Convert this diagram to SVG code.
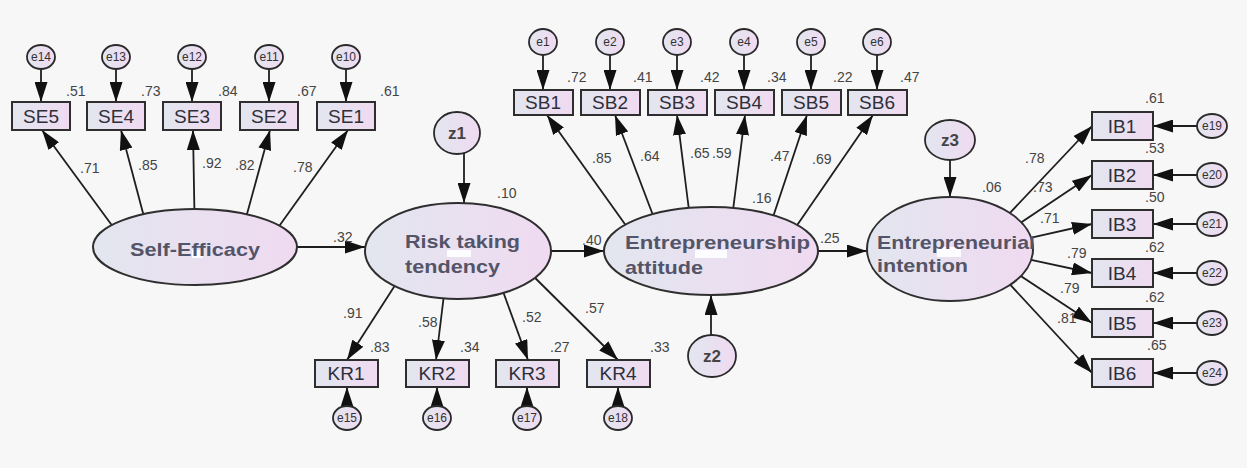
<svg xmlns="http://www.w3.org/2000/svg" width="1247" height="468" viewBox="0 0 1247 468">
<defs>
<linearGradient id="fg" x1="0" y1="0" x2="1" y2="0">
<stop offset="0" stop-color="#e2e6ef"/>
<stop offset="1" stop-color="#f0daf1"/>
</linearGradient>
<marker id="ah" viewBox="0 0 20 13" refX="20" refY="6.5" markerWidth="20" markerHeight="13" orient="auto" markerUnits="userSpaceOnUse">
<path d="M0,0 L20,6.5 L0,13 z" fill="#111"/>
</marker>
<style>
.lv{fill:url(#fg);stroke:#2e2e2e;stroke-width:2}
.bx{fill:url(#fg);stroke:#2e2e2e;stroke-width:2}
.er{fill:url(#fg);stroke:#2a2a2a;stroke-width:1.8}
.c{stroke:#1e1e1e;stroke-width:1.8;fill:none;marker-end:url(#ah)}
.lt{font-family:"Liberation Sans",Arial,sans-serif;font-weight:bold;font-size:19px;fill:#545468}
.bt{font-family:"Liberation Sans",Arial,sans-serif;font-size:19px;fill:#2f2f3a;text-anchor:middle}
.et{font-family:"Liberation Sans",Arial,sans-serif;font-size:12px;fill:#333;text-anchor:middle}
.zt{font-family:"Liberation Sans",Arial,sans-serif;font-weight:bold;font-size:17px;fill:#444;text-anchor:middle}
.n{font-family:"Liberation Sans",Arial,sans-serif;font-size:14px;fill:#444}
.ws{fill:#fff;opacity:0.9}
</style>
</defs>
<rect x="0" y="0" width="1247" height="468" fill="#f7f7f7"/>

<g id="connectors">
<line class="c" x1="41" y1="57" x2="41" y2="102"/>
<line class="c" x1="116" y1="57" x2="116" y2="102"/>
<line class="c" x1="192" y1="57" x2="192" y2="102"/>
<line class="c" x1="269" y1="57" x2="269" y2="102"/>
<line class="c" x1="346" y1="57" x2="346" y2="102"/>
<line class="c" x1="130" y1="250" x2="42" y2="130"/>
<line class="c" x1="152" y1="247" x2="121" y2="130"/>
<line class="c" x1="195" y1="245" x2="193" y2="130"/>
<line class="c" x1="238" y1="247" x2="270" y2="130"/>
<line class="c" x1="262" y1="250" x2="348" y2="130"/>
<line class="c" x1="290" y1="247" x2="365" y2="247"/>
<line class="c" x1="464" y1="140" x2="464" y2="203"/>
<line class="c" x1="540" y1="251" x2="604" y2="251"/>
<line class="c" x1="711" y1="360" x2="711" y2="295"/>
<line class="c" x1="810" y1="251" x2="867" y2="251"/>
<line class="c" x1="950" y1="145" x2="950" y2="197"/>
<line class="c" x1="410" y1="262" x2="347" y2="360"/>
<line class="c" x1="447" y1="270" x2="436" y2="360"/>
<line class="c" x1="497" y1="275" x2="528" y2="360"/>
<line class="c" x1="520" y1="263" x2="618" y2="360"/>
<line class="c" x1="347" y1="418" x2="347" y2="387"/>
<line class="c" x1="437" y1="418" x2="437" y2="387"/>
<line class="c" x1="527" y1="418" x2="527" y2="387"/>
<line class="c" x1="618" y1="418" x2="618" y2="387"/>
<line class="c" x1="543" y1="42" x2="543" y2="90"/>
<line class="c" x1="610" y1="42" x2="610" y2="90"/>
<line class="c" x1="677" y1="42" x2="677" y2="90"/>
<line class="c" x1="744" y1="42" x2="744" y2="90"/>
<line class="c" x1="811" y1="42" x2="811" y2="90"/>
<line class="c" x1="877" y1="42" x2="877" y2="90"/>
<line class="c" x1="642" y1="248" x2="547" y2="115"/>
<line class="c" x1="665" y1="247" x2="615" y2="115"/>
<line class="c" x1="694" y1="250" x2="677" y2="115"/>
<line class="c" x1="728" y1="250" x2="745" y2="115"/>
<line class="c" x1="762" y1="250" x2="807" y2="115"/>
<line class="c" x1="780" y1="250" x2="873" y2="115"/>
<line class="c" x1="990" y1="234" x2="1092" y2="126"/>
<line class="c" x1="995" y1="240" x2="1092" y2="175"/>
<line class="c" x1="990" y1="247" x2="1092" y2="224"/>
<line class="c" x1="990" y1="251" x2="1092" y2="273"/>
<line class="c" x1="995" y1="259" x2="1092" y2="323"/>
<line class="c" x1="990" y1="263" x2="1092" y2="373"/>
<line class="c" x1="1212" y1="126" x2="1153" y2="126"/>
<line class="c" x1="1212" y1="175" x2="1153" y2="175"/>
<line class="c" x1="1212" y1="224" x2="1153" y2="224"/>
<line class="c" x1="1212" y1="273" x2="1153" y2="273"/>
<line class="c" x1="1212" y1="323" x2="1153" y2="323"/>
<line class="c" x1="1212" y1="373" x2="1153" y2="373"/>
</g>

<g id="self-efficacy">
<ellipse class="lv" cx="195" cy="247" rx="102" ry="38"/>
<rect class="ws" x="192" y="250" width="11" height="8"/>
<text class="lt" x="130" y="256" textLength="130" lengthAdjust="spacingAndGlyphs">Self-Efficacy</text>
</g>
<g id="risk-taking">
<ellipse class="lv" cx="458" cy="251" rx="93" ry="48"/>
<rect class="ws" x="447" y="250" width="24" height="7"/>
<text class="lt" x="405" y="248" textLength="115" lengthAdjust="spacingAndGlyphs">Risk taking</text>
<text class="lt" x="405" y="273" textLength="95" lengthAdjust="spacingAndGlyphs">tendency</text>
</g>
<g id="attitude">
<ellipse class="lv" cx="711" cy="251" rx="107" ry="44"/>
<rect class="ws" x="695" y="250" width="32" height="8"/>
<text class="lt" x="625" y="249" textLength="185" lengthAdjust="spacingAndGlyphs">Entrepreneurship</text>
<text class="lt" x="625" y="274" textLength="78" lengthAdjust="spacingAndGlyphs">attitude</text>
</g>
<g id="intention">
<ellipse class="lv" cx="950" cy="249" rx="83" ry="52"/>
<rect class="ws" x="937" y="247" width="24" height="10"/>
<text class="lt" x="877" y="249" textLength="158" lengthAdjust="spacingAndGlyphs">Entrepreneurial</text>
<text class="lt" x="877" y="272" textLength="91" lengthAdjust="spacingAndGlyphs">intention</text>
</g>

<g id="z1"><ellipse class="er" cx="457" cy="133" rx="23" ry="21"/><text class="zt" x="457" y="139">z1</text></g>
<g id="z2"><ellipse class="er" cx="712" cy="356" rx="24" ry="21"/><text class="zt" x="712" y="362">z2</text></g>
<g id="z3"><ellipse class="er" cx="950" cy="140" rx="25" ry="20"/><text class="zt" x="950" y="146">z3</text></g>

<g id="SE5"><rect class="bx" x="12" y="102" width="58" height="28"/><text class="bt" x="41" y="123">SE5</text></g>
<g id="SE4"><rect class="bx" x="87" y="102" width="58" height="28"/><text class="bt" x="116" y="123">SE4</text></g>
<g id="SE3"><rect class="bx" x="163" y="102" width="58" height="28"/><text class="bt" x="192" y="123">SE3</text></g>
<g id="SE2"><rect class="bx" x="240" y="102" width="58" height="28"/><text class="bt" x="269" y="123">SE2</text></g>
<g id="SE1"><rect class="bx" x="317" y="102" width="58" height="28"/><text class="bt" x="346" y="123">SE1</text></g>
<g id="e14"><ellipse class="er" cx="41" cy="57" rx="14" ry="12"/><text class="et" x="41" y="61">e14</text></g>
<g id="e13"><ellipse class="er" cx="116" cy="57" rx="14" ry="12"/><text class="et" x="116" y="61">e13</text></g>
<g id="e12"><ellipse class="er" cx="192" cy="57" rx="14" ry="12"/><text class="et" x="192" y="61">e12</text></g>
<g id="e11"><ellipse class="er" cx="269" cy="57" rx="14" ry="12"/><text class="et" x="269" y="61">e11</text></g>
<g id="e10"><ellipse class="er" cx="346" cy="57" rx="14" ry="12"/><text class="et" x="346" y="61">e10</text></g>

<g id="KR1"><rect class="bx" x="315" y="360" width="63" height="27"/><text class="bt" x="346" y="380">KR1</text></g>
<g id="KR2"><rect class="bx" x="406" y="360" width="63" height="27"/><text class="bt" x="437" y="380">KR2</text></g>
<g id="KR3"><rect class="bx" x="496" y="360" width="63" height="27"/><text class="bt" x="527" y="380">KR3</text></g>
<g id="KR4"><rect class="bx" x="587" y="360" width="63" height="27"/><text class="bt" x="618" y="380">KR4</text></g>
<g id="e15"><ellipse class="er" cx="347" cy="418" rx="14" ry="12"/><text class="et" x="347" y="422">e15</text></g>
<g id="e16"><ellipse class="er" cx="437" cy="418" rx="14" ry="12"/><text class="et" x="437" y="422">e16</text></g>
<g id="e17"><ellipse class="er" cx="527" cy="418" rx="14" ry="12"/><text class="et" x="527" y="422">e17</text></g>
<g id="e18"><ellipse class="er" cx="618" cy="418" rx="14" ry="12"/><text class="et" x="618" y="422">e18</text></g>

<g id="SB1"><rect class="bx" x="514" y="90" width="59" height="25"/><text class="bt" x="543" y="109">SB1</text></g>
<g id="SB2"><rect class="bx" x="581" y="90" width="59" height="25"/><text class="bt" x="610" y="109">SB2</text></g>
<g id="SB3"><rect class="bx" x="648" y="90" width="59" height="25"/><text class="bt" x="677" y="109">SB3</text></g>
<g id="SB4"><rect class="bx" x="715" y="90" width="59" height="25"/><text class="bt" x="744" y="109">SB4</text></g>
<g id="SB5"><rect class="bx" x="782" y="90" width="59" height="25"/><text class="bt" x="811" y="109">SB5</text></g>
<g id="SB6"><rect class="bx" x="848" y="90" width="59" height="25"/><text class="bt" x="877" y="109">SB6</text></g>
<g id="e1"><ellipse class="er" cx="543" cy="42" rx="14" ry="13"/><text class="et" x="543" y="46">e1</text></g>
<g id="e2"><ellipse class="er" cx="610" cy="42" rx="14" ry="13"/><text class="et" x="610" y="46">e2</text></g>
<g id="e3"><ellipse class="er" cx="677" cy="42" rx="14" ry="13"/><text class="et" x="677" y="46">e3</text></g>
<g id="e4"><ellipse class="er" cx="744" cy="42" rx="14" ry="13"/><text class="et" x="744" y="46">e4</text></g>
<g id="e5"><ellipse class="er" cx="811" cy="42" rx="14" ry="13"/><text class="et" x="811" y="46">e5</text></g>
<g id="e6"><ellipse class="er" cx="877" cy="42" rx="14" ry="13"/><text class="et" x="877" y="46">e6</text></g>

<g id="IB1"><rect class="bx" x="1092" y="112" width="61" height="28"/><text class="bt" x="1122" y="133">IB1</text></g>
<g id="IB2"><rect class="bx" x="1092" y="161" width="61" height="28"/><text class="bt" x="1122" y="182">IB2</text></g>
<g id="IB3"><rect class="bx" x="1092" y="210" width="61" height="28"/><text class="bt" x="1122" y="231">IB3</text></g>
<g id="IB4"><rect class="bx" x="1092" y="259" width="61" height="28"/><text class="bt" x="1122" y="280">IB4</text></g>
<g id="IB5"><rect class="bx" x="1092" y="309" width="61" height="28"/><text class="bt" x="1122" y="330">IB5</text></g>
<g id="IB6"><rect class="bx" x="1092" y="359" width="61" height="28"/><text class="bt" x="1122" y="380">IB6</text></g>
<g id="e19"><ellipse class="er" cx="1212" cy="126" rx="15" ry="12"/><text class="et" x="1212" y="130">e19</text></g>
<g id="e20"><ellipse class="er" cx="1212" cy="175" rx="15" ry="12"/><text class="et" x="1212" y="179">e20</text></g>
<g id="e21"><ellipse class="er" cx="1212" cy="224" rx="15" ry="12"/><text class="et" x="1212" y="228">e21</text></g>
<g id="e22"><ellipse class="er" cx="1212" cy="273" rx="15" ry="12"/><text class="et" x="1212" y="277">e22</text></g>
<g id="e23"><ellipse class="er" cx="1212" cy="323" rx="15" ry="12"/><text class="et" x="1212" y="327">e23</text></g>
<g id="e24"><ellipse class="er" cx="1212" cy="373" rx="15" ry="12"/><text class="et" x="1212" y="377">e24</text></g>

<g id="labels">
<text class="n" x="66" y="96">.51</text>
<text class="n" x="141" y="96">.73</text>
<text class="n" x="218" y="96">.84</text>
<text class="n" x="297" y="96">.67</text>
<text class="n" x="380" y="96">.61</text>
<text class="n" x="80" y="173">.71</text>
<text class="n" x="138" y="170">.85</text>
<text class="n" x="202" y="168">.92</text>
<text class="n" x="235" y="170">.82</text>
<text class="n" x="293" y="172">.78</text>
<text class="n" x="333" y="242">.32</text>
<text class="n" x="497" y="198">.10</text>
<text class="n" x="582" y="245">.40</text>
<text class="n" x="343" y="318">.91</text>
<text class="n" x="370" y="352">.83</text>
<text class="n" x="418" y="327">.58</text>
<text class="n" x="460" y="352">.34</text>
<text class="n" x="522" y="322">.52</text>
<text class="n" x="550" y="352">.27</text>
<text class="n" x="585" y="313">.57</text>
<text class="n" x="650" y="352">.33</text>
<text class="n" x="567" y="82">.72</text>
<text class="n" x="633" y="82">.41</text>
<text class="n" x="700" y="82">.42</text>
<text class="n" x="767" y="82">.34</text>
<text class="n" x="833" y="82">.22</text>
<text class="n" x="900" y="82">.47</text>
<text class="n" x="592" y="163">.85</text>
<text class="n" x="640" y="161">.64</text>
<text class="n" x="690" y="158">.65</text>
<text class="n" x="712" y="158">.59</text>
<text class="n" x="770" y="161">.47</text>
<text class="n" x="812" y="164">.69</text>
<text class="n" x="752" y="203">.16</text>
<text class="n" x="820" y="243">.25</text>
<text class="n" x="982" y="192">.06</text>
<text class="n" x="1145" y="103">.61</text>
<text class="n" x="1145" y="153">.53</text>
<text class="n" x="1145" y="202">.50</text>
<text class="n" x="1145" y="252">.62</text>
<text class="n" x="1145" y="302">.62</text>
<text class="n" x="1147" y="350">.65</text>
<text class="n" x="1025" y="163">.78</text>
<text class="n" x="1033" y="192">.73</text>
<text class="n" x="1040" y="223">.71</text>
<text class="n" x="1067" y="258">.79</text>
<text class="n" x="1060" y="293">.79</text>
<text class="n" x="1057" y="323">.81</text>
</g>
</svg>
